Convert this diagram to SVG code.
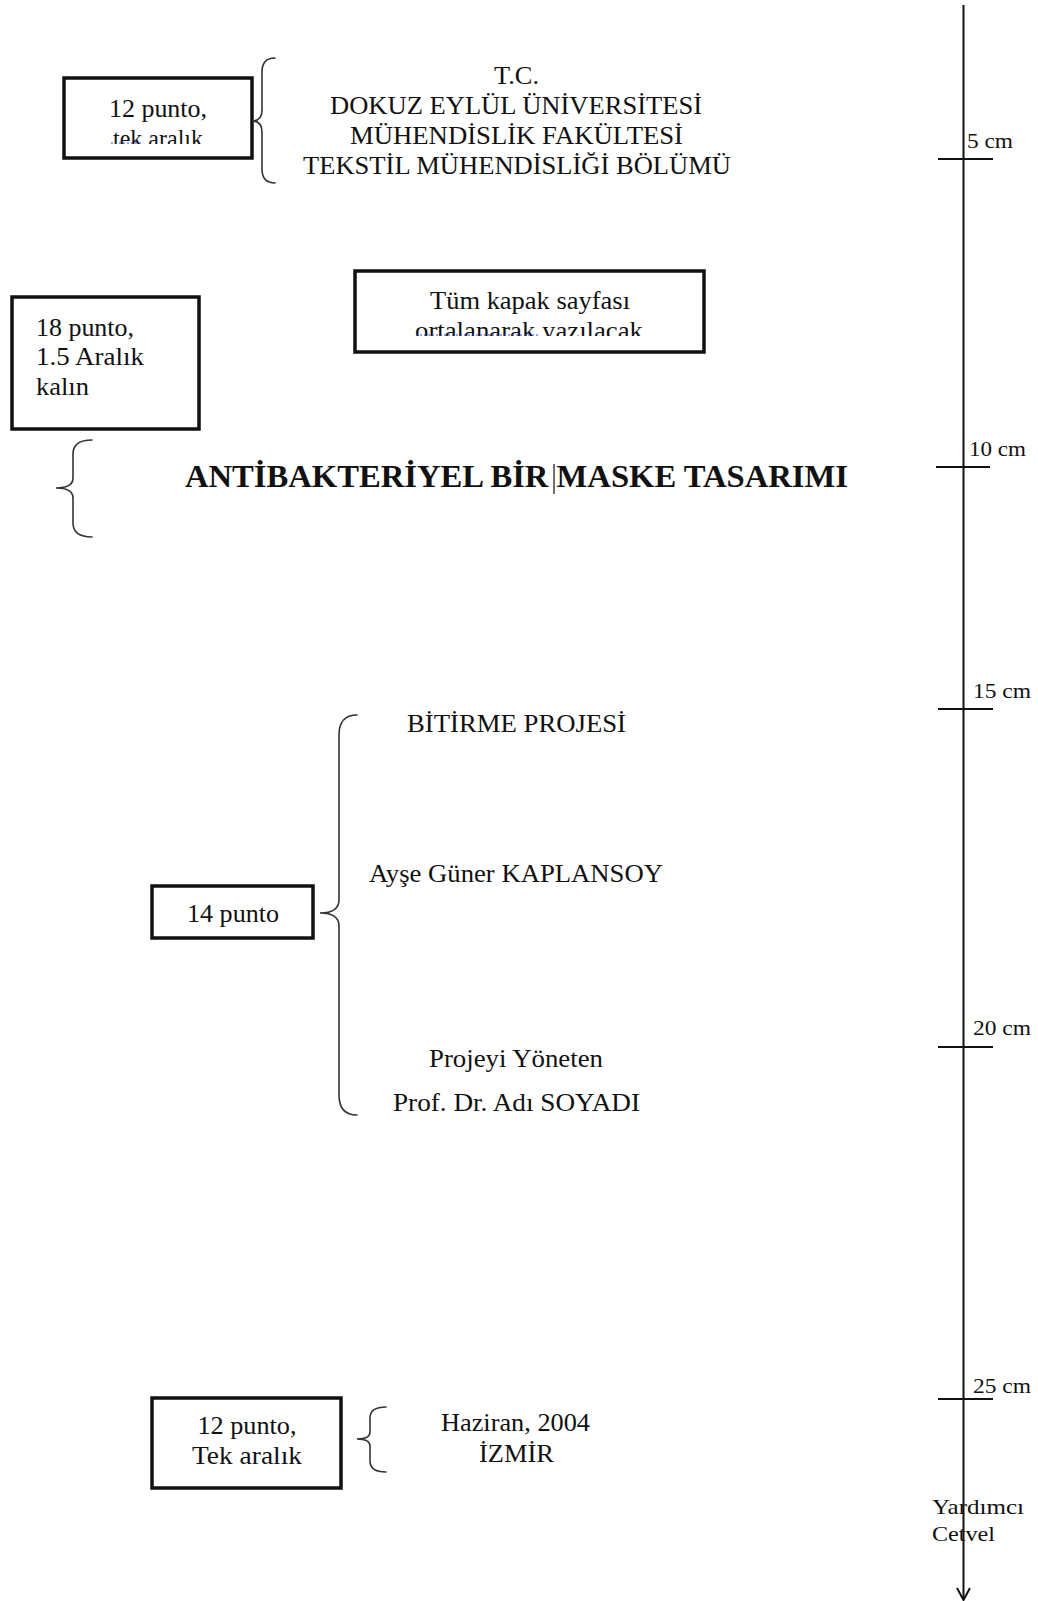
<svg xmlns="http://www.w3.org/2000/svg" width="1038" height="1601" viewBox="0 0 1038 1601">
  <style>
    text { font-family: "Liberation Serif", "Times New Roman", serif; fill: #111; }
    .t26 { font-size: 26px; }
    .c { text-anchor: middle; }
    .title { font-size: 32px; font-weight: bold; }
    .cm { font-size: 22px; }
    .box { fill: #fff; stroke: #111; stroke-width: 3.5; }
    .brace { fill: none; stroke: #333; stroke-width: 1.6; stroke-linecap: round; }
    .rule { stroke: #111; stroke-width: 2; fill: none; }
    .spell { stroke: #3344dd; stroke-width: 1.2; stroke-dasharray: 2 2; }
  </style>
  <defs>
    <clipPath id="clip1"><rect x="66" y="80" width="184" height="64"/></clipPath>
    <clipPath id="clip2"><rect x="357" y="272" width="346" height="64"/></clipPath>
    <clipPath id="clip4"><rect x="154" y="887" width="157" height="49"/></clipPath>
  </defs>
  <rect width="1038" height="1601" fill="#fff"/>

  <!-- header text -->
  <g id="header">
    <text class="t26 c" x="516.5" y="84" textLength="45" lengthAdjust="spacingAndGlyphs">T.C.</text>
    <text class="t26 c" x="516" y="114" textLength="372" lengthAdjust="spacingAndGlyphs">DOKUZ EYLÜL ÜNİVERSİTESİ</text>
    <text class="t26 c" x="516.5" y="144" textLength="333" lengthAdjust="spacingAndGlyphs">MÜHENDİSLİK FAKÜLTESİ</text>
    <text class="t26 c" x="517" y="174" textLength="428" lengthAdjust="spacingAndGlyphs">TEKSTİL MÜHENDİSLİĞİ BÖLÜMÜ</text>
  </g>

  <!-- box: 12 punto, tek aralik -->
  <g id="box-top-note">
    <rect class="box" x="64" y="78" width="188" height="80"/>
    <g clip-path="url(#clip1)">
      <text class="t26 c" x="158" y="117" textLength="98" lengthAdjust="spacingAndGlyphs">12 punto,</text>
      <text class="t26 c" x="158" y="147" textLength="90" lengthAdjust="spacingAndGlyphs">tek aralık</text>
      <line class="spell" x1="111" y1="143" x2="143" y2="143"/>
    </g>
  </g>

  <!-- box: Tum kapak sayfasi -->
  <g id="box-center-note">
    <rect class="box" x="355" y="271" width="349" height="81"/>
    <g clip-path="url(#clip2)">
      <text class="t26 c" x="530" y="309" textLength="200" lengthAdjust="spacingAndGlyphs">Tüm kapak sayfası</text>
      <text class="t26 c" x="529" y="339" textLength="228" lengthAdjust="spacingAndGlyphs">ortalanarak yazılacak</text>
      <line class="spell" x1="416" y1="335" x2="540" y2="335"/>
    </g>
  </g>

  <!-- box: 18 punto -->
  <g id="box-title-note">
    <rect class="box" x="12" y="297" width="187" height="132"/>
    <text class="t26" x="36" y="336" textLength="98" lengthAdjust="spacingAndGlyphs">18 punto,</text>
    <text class="t26" x="36" y="365" textLength="108" lengthAdjust="spacingAndGlyphs">1.5 Aralık</text>
    <text class="t26" x="36" y="395" textLength="53" lengthAdjust="spacingAndGlyphs">kalın</text>
  </g>

  <!-- title -->
  <g id="title">
    <text class="title" x="185" y="487" textLength="663" lengthAdjust="spacingAndGlyphs">ANTİBAKTERİYEL BİR MASKE TASARIMI</text>
    <line x1="554" y1="464" x2="554" y2="494" stroke="#111" stroke-width="1.2"/>
  </g>

  <!-- box: 14 punto -->
  <g id="box-body-note">
    <rect class="box" x="152" y="886" width="161" height="52"/>
    <g clip-path="url(#clip4)">
      <text class="t26 c" x="233" y="922" textLength="92" lengthAdjust="spacingAndGlyphs">14 punto</text>
    </g>
  </g>

  <!-- body texts -->
  <g id="body">
    <text class="t26 c" x="516.5" y="732" textLength="219" lengthAdjust="spacingAndGlyphs">BİTİRME PROJESİ</text>
    <text class="t26 c" x="516" y="882" textLength="294" lengthAdjust="spacingAndGlyphs">Ayşe Güner KAPLANSOY</text>
    <text class="t26 c" x="516" y="1067" textLength="174" lengthAdjust="spacingAndGlyphs">Projeyi Yöneten</text>
    <text class="t26 c" x="516.5" y="1111" textLength="247" lengthAdjust="spacingAndGlyphs">Prof. Dr. Adı SOYADI</text>
  </g>

  <!-- box: 12 punto, Tek aralik -->
  <g id="box-bottom-note">
    <rect class="box" x="152" y="1398" width="189" height="90"/>
    <text class="t26 c" x="247" y="1434" textLength="99" lengthAdjust="spacingAndGlyphs">12 punto,</text>
    <text class="t26 c" x="247" y="1464" textLength="110" lengthAdjust="spacingAndGlyphs">Tek aralık</text>
  </g>

  <!-- footer text -->
  <g id="footer">
    <text class="t26 c" x="515.5" y="1431" textLength="149" lengthAdjust="spacingAndGlyphs">Haziran, 2004</text>
    <text class="t26 c" x="516.5" y="1462" textLength="75" lengthAdjust="spacingAndGlyphs">İZMİR</text>
  </g>

  <!-- connectors (braces) -->
  <g id="connectors">
    <path class="brace" d="M275 58 Q262 58 262 72 L262 110 Q262 121 252 121 Q262 121 262 132 L262 169 Q262 183 275 183"/>
    <path class="brace" d="M92 440 Q73 440 73 454 L73 478 Q73 488 56 488 Q73 488 73 498 L73 523 Q73 537 92 537"/>
    <path class="brace" d="M357 715 Q339 715 339 735 L339 900 Q339 913 320 913 Q339 913 339 926 L339 1095 Q339 1115 357 1115"/>
    <path class="brace" d="M386 1407 Q370 1407 370 1418 L370 1432 Q370 1439 357 1439 Q370 1439 370 1446 L370 1461 Q370 1472 386 1472"/>
  </g>

  <!-- ruler -->
  <g id="ruler">
    <text class="cm" x="932" y="1514" textLength="92" lengthAdjust="spacingAndGlyphs">Yardımcı</text>
    <text class="cm" x="932" y="1541" textLength="63" lengthAdjust="spacingAndGlyphs">Cetvel</text>
    <line class="rule" x1="963.5" y1="5" x2="963.5" y2="1599"/>
    <polyline class="rule" points="957,1588 963.5,1600 970,1588"/>
    <line class="rule" x1="938" y1="159" x2="993" y2="159"/>
    <line class="rule" x1="936" y1="467" x2="990" y2="467"/>
    <line class="rule" x1="938" y1="709" x2="993" y2="709"/>
    <line class="rule" x1="938" y1="1047" x2="993" y2="1047"/>
    <line class="rule" x1="938" y1="1399" x2="993" y2="1399"/>
    <text class="cm" x="967" y="148" textLength="46" lengthAdjust="spacingAndGlyphs">5 cm</text>
    <text class="cm" x="969" y="456" textLength="57" lengthAdjust="spacingAndGlyphs">10 cm</text>
    <text class="cm" x="973" y="698" textLength="58" lengthAdjust="spacingAndGlyphs">15 cm</text>
    <text class="cm" x="973" y="1035" textLength="58" lengthAdjust="spacingAndGlyphs">20 cm</text>
    <text class="cm" x="973" y="1393" textLength="58" lengthAdjust="spacingAndGlyphs">25 cm</text>
  </g>
</svg>
